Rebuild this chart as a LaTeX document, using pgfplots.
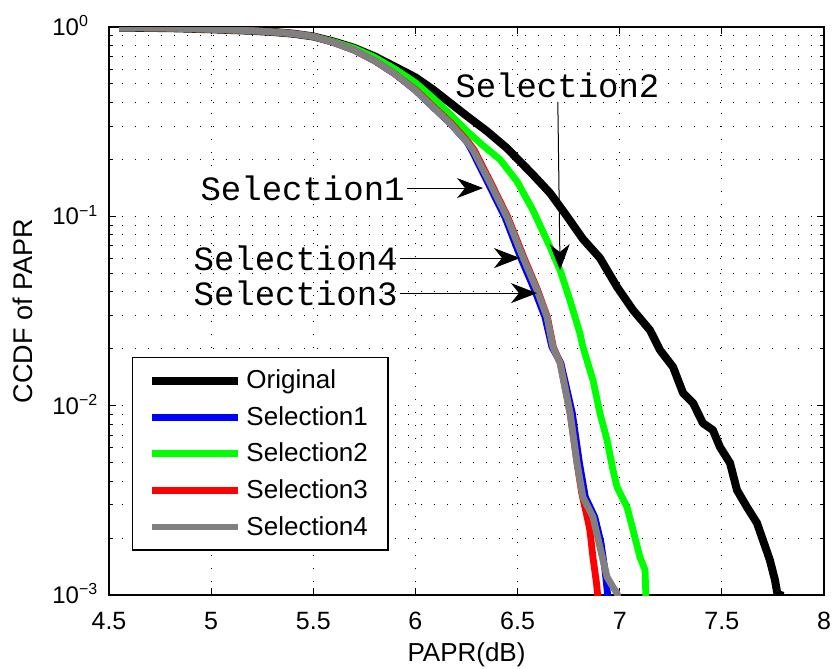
\documentclass[border=0pt]{standalone}
\usepackage{pgfplots}
\pgfplotsset{compat=1.18}
\usetikzlibrary{arrows.meta}
\usepackage{fontspec}
\setmainfont{Liberation Sans}
\newfontfamily\mono{Liberation Mono}
\definecolor{mgreen}{RGB}{0,255,0}
\definecolor{mgray}{RGB}{128,128,128}
\newcommand\xtfont{\fontsize{12.5pt}{15pt}\selectfont}
\newcommand\ytfont{\fontsize{12pt}{14pt}\selectfont}
\newcommand\labfont{\fontsize{13.5pt}{16pt}\selectfont}
\newcommand\legfont{\fontsize{13pt}{15pt}\selectfont}

\begin{document}
\begin{tikzpicture}
\begin{axis}[
    name=ax,
    scale only axis,
    width=357.5pt,
    height=284pt,
    xmin=4.5, xmax=8,
    ymode=log,
    ymin=1e-3, ymax=1,
    xtick={4.5,5,5.5,6,6.5,7,7.5,8},
    xticklabels={4.5,5,5.5,6,6.5,7,7.5,8},
    ytick={0.001,0.01,0.1,1},
    yticklabels={10\textsuperscript{−3},10\textsuperscript{−2},10\textsuperscript{−1},10\textsuperscript{0}},
    xticklabel style={font=\xtfont, anchor=base, inner sep=0pt, yshift=-17pt},
    yticklabel style={font=\ytfont, anchor=base west, inner sep=0pt, xshift=-28.5pt, yshift=-4.3pt},
    xlabel={PAPR(dB)},
    ylabel={CCDF of PAPR},
    xlabel style={font=\legfont, at={(axis description cs:0.5,-0.1056)}, anchor=center},
    ylabel style={font=\labfont, at={(axis description cs:-0.1203,0.5)}, anchor=center},
    tick align=inside,
    major tick length=3.5pt,
    minor tick length=2.2pt,
    every tick/.style={black, line width=0.5pt},
    axis line style={line width=0.6pt},
    xmajorgrids, ymajorgrids, yminorgrids,
    major grid style={black, line width=0.5pt, dash pattern=on 0.5pt off 6pt},
    minor grid style={black, line width=0.5pt, dash pattern=on 0.5pt off 6pt},
    legend style={at={(0.032,0.419)}, anchor=north west, draw=black, line width=0.6pt,
        font=\legfont, inner xsep=8pt, inner ysep=4pt, row sep=3.4pt,
        cells={anchor=west}},
    legend image code/.code={\draw[#1] (0pt,0pt) -- (43pt,0pt);},
    every axis plot/.append style={line width=3.4pt, line join=round},
]
% Original
\addplot[black, line width=4pt] coordinates {
(4.55,0.9931) (4.8,0.9863) (5.0,0.9727) (5.2,0.9550) (5.3,0.9419) (5.4,0.9226)
(5.5,0.8913) (5.6,0.8375) (5.7,0.7762) (5.8,0.6998) (5.9,0.6166) (6.0,0.5420)
(6.086,0.4677) (6.169,0.3981) (6.252,0.3388) (6.35,0.2818) (6.448,0.2291)
(6.575,0.1660) (6.659,0.1327) (6.742,0.1000) (6.820,0.07586) (6.903,0.06026)
(6.987,0.04236) (7.065,0.03199) (7.148,0.02506) (7.197,0.01968) (7.261,0.01600)
(7.310,0.01167) (7.359,0.01033) (7.407,0.008091) (7.456,0.007430) (7.491,0.006039)
(7.540,0.004977) (7.574,0.003581) (7.623,0.002911) (7.672,0.002399) (7.701,0.001950)
(7.735,0.001528) (7.760,0.001199) (7.772,0.001012) (7.800,0.000990)
};
\addlegendentry{Original}
% Selection1
\addplot[blue] coordinates {
(4.55,0.9931) (4.8,0.9863) (5.0,0.9727) (5.2,0.9550) (5.3,0.9419) (5.4,0.9226)
(5.5,0.8913) (5.6,0.8279) (5.7,0.7551) (5.8,0.6637) (5.9,0.5649) (6.0,0.4634)
(6.086,0.3776) (6.169,0.3112) (6.252,0.2472) (6.275,0.2239) (6.355,0.1500)
(6.438,0.09908) (6.514,0.06095) (6.583,0.04083) (6.634,0.02938) (6.668,0.02042)
(6.712,0.01679) (6.768,0.009141) (6.803,0.004977) (6.832,0.003289) (6.878,0.002582)
(6.908,0.001900) (6.928,0.001350) (6.942,0.000977)
};
\addlegendentry{Selection1}
% Selection2
\addplot[mgreen] coordinates {
(4.55,0.9931) (4.8,0.9863) (5.0,0.9727) (5.2,0.9550) (5.3,0.9419) (5.4,0.9226)
(5.5,0.8913) (5.6,0.8356) (5.7,0.7727) (5.8,0.6918) (5.9,0.5998) (6.0,0.5082)
(6.086,0.4217) (6.169,0.3467) (6.252,0.2818) (6.33,0.2371) (6.414,0.1995)
(6.497,0.1531) (6.575,0.1079) (6.659,0.06887) (6.708,0.05200) (6.756,0.03614)
(6.805,0.02415) (6.820,0.02042) (6.869,0.01365) (6.903,0.009141) (6.938,0.006577)
(6.967,0.004571) (6.987,0.003715) (7.036,0.002911) (7.065,0.002203) (7.099,0.001585)
(7.124,0.001355) (7.128,0.000977)
};
\addlegendentry{Selection2}
% Selection3
\addplot[red] coordinates {
(4.55,0.9931) (4.8,0.9863) (5.0,0.9727) (5.2,0.9550) (5.3,0.9419) (5.4,0.9226)
(5.5,0.8913) (5.6,0.8279) (5.7,0.7551) (5.8,0.6637) (5.9,0.5649) (6.004,0.4634)
(6.090,0.3776) (6.174,0.3112) (6.258,0.2472) (6.288,0.2239) (6.370,0.1500)
(6.452,0.09908) (6.530,0.06095) (6.598,0.04083) (6.646,0.02938) (6.675,0.02042)
(6.709,0.01679) (6.757,0.009141) (6.791,0.004977) (6.815,0.003400) (6.840,0.002600)
(6.854,0.002200) (6.869,0.001580) (6.886,0.001160) (6.893,0.000977)
};
\addlegendentry{Selection3}
% Selection4
\addplot[mgray] coordinates {
(4.55,0.9931) (4.8,0.9863) (5.0,0.9727) (5.2,0.9550) (5.3,0.9419) (5.4,0.9226)
(5.5,0.8913) (5.6,0.8279) (5.7,0.7551) (5.8,0.6637) (5.9,0.5649) (6.0,0.4634)
(6.086,0.3776) (6.169,0.3112) (6.252,0.2472) (6.282,0.2239) (6.365,0.1500)
(6.448,0.09908) (6.526,0.06095) (6.595,0.04083) (6.644,0.02938) (6.673,0.02042)
(6.708,0.01679) (6.757,0.009141) (6.791,0.004977) (6.820,0.003289) (6.869,0.002582)
(6.903,0.001791) (6.938,0.001245) (6.967,0.001102) (6.987,0.001023) (6.990,0.000977)
};
\addlegendentry{Selection4}

% annotations
\begin{scope}[every node/.style={font=\mono\fontsize{17pt}{19pt}\selectfont, inner sep=0pt}]
\node[anchor=east] at (axis cs:5.949,0.141) {Selection1};
\node[anchor=east] at (axis cs:5.915,0.0602) {Selection4};
\node[anchor=east] at (axis cs:5.915,0.0393) {Selection3};
\node at (axis cs:6.695,0.494) {Selection2};
\end{scope}
\begin{scope}[line width=0.5pt, -{Stealth[length=13pt,width=10pt,inset=4pt]}]
\draw (axis cs:5.959,0.141) -- (axis cs:6.331,0.141);
\draw (axis cs:5.924,0.0602) -- (axis cs:6.512,0.0602);
\draw (axis cs:5.924,0.0393) -- (axis cs:6.595,0.0393);
\draw (axis cs:6.697,0.402) -- (axis cs:6.708,0.0520);
\end{scope}
\end{axis}
\pgfresetboundingbox
\path ([shift={(-54.5pt,-36.5pt)}]ax.south west) rectangle ([shift={(4pt,13.5pt)}]ax.north east);
\end{tikzpicture}
\end{document}
